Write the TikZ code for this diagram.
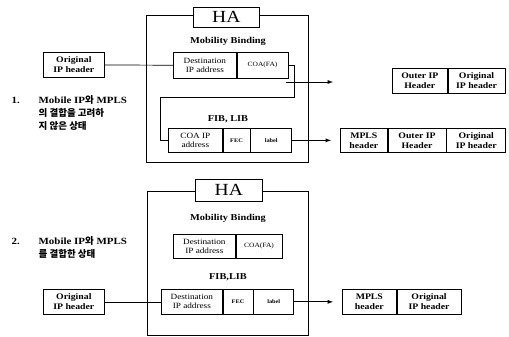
\documentclass[tikz,border=0pt]{standalone}
\usepackage{fontspec}
\setmainfont[FakeStretch=1.15]{Liberation Serif}
\newfontfamily\kr{Noto Sans CJK KR}
\usetikzlibrary{positioning}

\begin{document}
\begin{tikzpicture}[x=1pt, y=-1pt, line width=0.7pt,
    cell/.style={draw, inner sep=0pt, align=center, font=\fontsize{8}{9}\selectfont},
    hdr/.style={cell, font=\bfseries\fontsize{8.5}{10}\selectfont},
    tiny/.style={cell, font=\bfseries\fontsize{5.5}{6}\selectfont},
    habox/.style={draw, fill=white, inner sep=0pt, font=\fontsize{17}{17}\selectfont},
    title/.style={font=\bfseries\fontsize{9}{10}\selectfont},
    note/.style={align=left, anchor=west, font=\bfseries\fontsize{9.5}{13}\selectfont}]
\useasboundingbox (0,0) rectangle (509,337);

% case 1
\node[note] (n1) at (8,100) {1.};
\node[note] (txt1) at (35,113) {Mobile IP{\kr 와} MPLS\\{\kr 의 결합을 고려하}\\{\kr 지 않은 상태}};
\draw (146,15) rectangle (308,162);
\node[habox, minimum width=66pt, minimum height=20pt, anchor=north west] (ha1) at (193,7) {HA};
\node[title] (mob1) at (228,41) {Mobility Binding};
\node[hdr, minimum width=61pt, minimum height=25pt, anchor=north west] (orig1) at (43,52) {Original\\IP header};
\node[cell, minimum width=63pt, minimum height=26pt, anchor=north west] (dst1) at (173,52) {Destination\\IP address};
\node[cell, minimum width=51pt, minimum height=26pt, right=0pt of dst1, font=\fontsize{6.5}{7}\selectfont] (coa1) {COA(FA)};
\node[title] (fib1) at (228,119) {FIB, LIB};
\node[cell, minimum width=54pt, minimum height=24pt, anchor=north west] (coaip) at (168,128) {COA IP\\address};
\node[tiny, minimum width=27pt, minimum height=24pt, right=0pt of coaip] (fec1) {FEC};
\node[tiny, minimum width=41pt, minimum height=24pt, right=0pt of fec1] (lab1) {label};
\node[hdr, minimum width=55pt, minimum height=25pt, anchor=north west] (out1) at (392,68) {Outer IP\\Header};
\node[hdr, minimum width=57pt, minimum height=25pt, right=0pt of out1] (org1) {Original\\IP header};
\node[hdr, minimum width=47pt, minimum height=24pt, anchor=north west] (mpls1) at (340,128) {MPLS\\header};
\node[hdr, minimum width=58pt, minimum height=24pt, right=0pt of mpls1] (out2) {Outer IP\\Header};
\node[hdr, minimum width=59pt, minimum height=24pt, right=0pt of out2] (org3) {Original\\IP header};
\coordinate (turn1) at (294,97);
\coordinate (turn2) at (160,97);
\coordinate (tail1) at (286,82);
\coordinate (tip1) at (333,82);
\draw (orig1) -- (dst1);
\draw (coa1.east) -| (turn1) -- (turn2) |- (coaip.west);
\draw[-latex, line width=0.9pt] (tail1) -- (tip1);
\draw[-latex, line width=0.9pt, shorten >=9pt] (lab1) -- (mpls1);

% case 2
\node[note] (n2) at (8,241) {2.};
\node[note] (txt2) at (35,247) {Mobile IP{\kr 와} MPLS\\{\kr 를 결합한 상태}};
\draw (147,191) rectangle (308,335);
\node[habox, minimum width=67pt, minimum height=22pt, anchor=north west] (ha2) at (195,179) {HA};
\node[title] (mob2) at (228,218) {Mobility Binding};
\node[cell, minimum width=62pt, minimum height=24pt, anchor=north west] (dst2) at (173,234) {Destination\\IP address};
\node[cell, minimum width=46pt, minimum height=24pt, right=0pt of dst2, font=\fontsize{6.5}{7}\selectfont] (coa2) {COA(FA)};
\node[title] (fib2) at (228,277) {FIB,LIB};
\node[hdr, minimum width=61pt, minimum height=25pt, anchor=north west] (orig2) at (43,289) {Original\\IP header};
\node[cell, minimum width=61pt, minimum height=25pt, anchor=north west] (dst3) at (161,289) {Destination\\IP address};
\node[tiny, minimum width=30pt, minimum height=25pt, right=0pt of dst3] (fec3) {FEC};
\node[tiny, minimum width=40pt, minimum height=25pt, right=0pt of fec3] (lab3) {label};
\node[hdr, minimum width=54pt, minimum height=25pt, anchor=north west] (mpls2) at (342,289) {MPLS\\header};
\node[hdr, minimum width=64pt, minimum height=25pt, right=0pt of mpls2] (org2) {Original\\IP header};
\draw (orig2) -- (dst3);
\draw[-latex, line width=0.9pt, shorten >=9pt] (lab3) -- (mpls2);
\end{tikzpicture}
\end{document}
